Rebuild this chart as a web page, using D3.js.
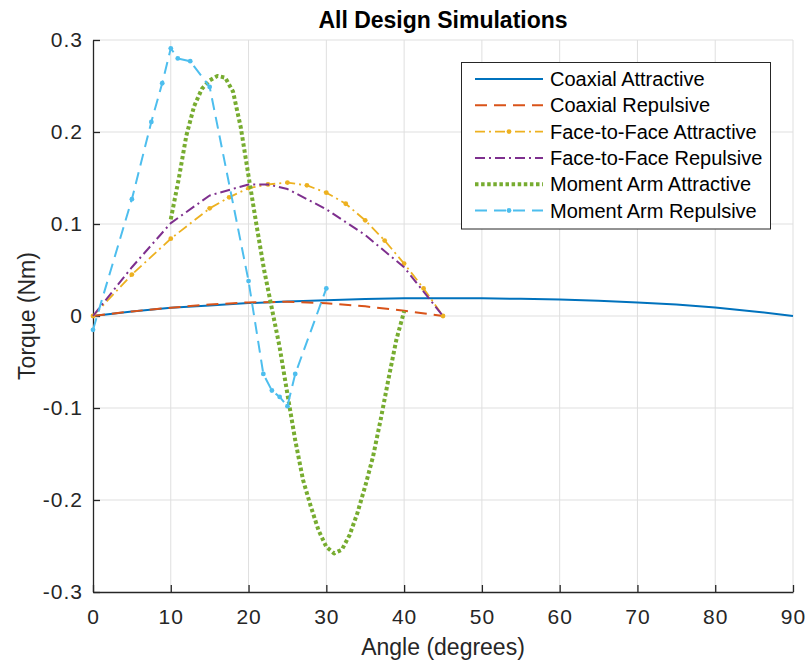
<!DOCTYPE html>
<html lang="en">
<head>
<meta charset="UTF-8">
<title>All Design Simulations</title>
<style>
  body { margin: 0; background: #fff; }
  svg { font-family: "Liberation Sans", Arial, sans-serif; }
</style>
</head>
<body>
<svg width="810" height="664"></svg>
<script src="https://d3js.org/d3.v7.min.js"></script>
<script>
// --- data ---
var coaxAttrX = [0, 5, 10, 15, 20, 25, 30, 35, 40, 45, 50, 55, 60, 65, 70, 75, 80, 85, 90];
var coaxAttrY = [0, 0.005, 0.009, 0.0115, 0.014, 0.0158, 0.0172, 0.0185, 0.0192, 0.0194, 0.0192, 0.0187, 0.0178, 0.0165, 0.0148, 0.0125, 0.0092, 0.005, 0];

var coaxRepX = [0, 5, 10, 15, 20, 25, 30, 35, 40, 45];
var coaxRepY = [0, 0.005, 0.009, 0.0125, 0.0148, 0.0155, 0.0138, 0.0105, 0.0058, 0];

var ffAttrX = [0, 5, 10, 15, 17.5, 20, 22.5, 25, 27.5, 30, 32.5, 35, 37.5, 40, 42.5, 45];
var ffAttrY = [0, 0.045, 0.084, 0.117, 0.129, 0.139, 0.143, 0.145, 0.142, 0.134, 0.122, 0.104, 0.082, 0.057, 0.030, 0];

var ffRepX = [0, 5, 10, 15, 20, 22.5, 25, 30, 35, 40, 45];
var ffRepY = [0, 0.053, 0.101, 0.131, 0.143, 0.143, 0.138, 0.116, 0.088, 0.053, 0];

var maAttrX = [10, 11, 12, 13, 14, 15, 16, 17, 18, 19, 20, 21, 22, 23, 24, 25, 26, 27, 28, 29, 30, 31, 32, 33, 34, 35, 36, 37, 38, 39, 40];
var maAttrY = [0.105, 0.148, 0.196, 0.228, 0.247, 0.256, 0.261, 0.259, 0.244, 0.205, 0.152, 0.100, 0.050, 0.008, -0.034, -0.085, -0.135, -0.178, -0.207, -0.233, -0.251, -0.258, -0.254, -0.238, -0.214, -0.185, -0.153, -0.112, -0.068, -0.026, 0.005];

var maRepX = [0, 5, 7.5, 8.9, 10, 10.9, 12.5, 15, 20, 21.9, 23, 24, 25, 26, 30];
var maRepY = [-0.015, 0.127, 0.211, 0.253, 0.291, 0.280, 0.277, 0.249, 0.038, -0.063, -0.081, -0.088, -0.098, -0.063, 0.030];

var seriesNames = ["Coaxial Attractive", "Coaxial Repulsive", "Face-to-Face Attractive",
                   "Face-to-Face Repulsive", "Moment Arm Attractive", "Moment Arm Repulsive"];
var xTicks = [0, 10, 20, 30, 40, 50, 60, 70, 80, 90];
var yTicks = [-0.3, -0.2, -0.1, 0, 0.1, 0.2, 0.3];

// --- styles for each series (MATLAB default order) ---
var styles = [
  { color: "#0072BD", dash: null,            width: 2,   marker: false },
  { color: "#D95319", dash: "12,7",          width: 2,   marker: false },
  { color: "#EDB120", dash: "10,4,2,4",      width: 1.8, marker: true  },
  { color: "#7E2F8E", dash: "10,4,2,4",      width: 2,   marker: false },
  { color: "#77AC30", dash: "3.5,2.6",       width: 4,   marker: false },
  { color: "#4DBEEE", dash: "12,7",          width: 2,   marker: true  }
];

var xs = [coaxAttrX, coaxRepX, ffAttrX, ffRepX, maAttrX, maRepX];
var ys = [coaxAttrY, coaxRepY, ffAttrY, ffRepY, maAttrY, maRepY];

var series = seriesNames.map(function (name, i) {
  return {
    name: name,
    style: styles[i],
    points: xs[i].map(function (x, j) { return { x: x, y: ys[i][j] }; })
  };
});

var svg = d3.select("svg");
var pLeft = 93, pRight = 793, pTop = 40, pBottom = 592;

var x = d3.scaleLinear().domain([0, 90]).range([pLeft, pRight]);
var y = d3.scaleLinear().domain([-0.3, 0.3]).range([pBottom, pTop]);

// grid
var grid = svg.append("g");
grid.selectAll(".gx").data(xTicks.slice(1)).enter().append("line")
  .attr("x1", function (d) { return x(d); }).attr("x2", function (d) { return x(d); })
  .attr("y1", pTop).attr("y2", pBottom)
  .attr("stroke", "#dfdfdf").attr("stroke-width", 1);
grid.selectAll(".gy").data(yTicks.slice(1)).enter().append("line")
  .attr("y1", function (d) { return y(d); }).attr("y2", function (d) { return y(d); })
  .attr("x1", pLeft).attr("x2", pRight)
  .attr("stroke", "#dfdfdf").attr("stroke-width", 1);

// axes (MATLAB style: hyphen minus, plain 0)
var fmtY = function (d) { return d === 0 ? "0" : d.toFixed(1); };

var xAxis = svg.append("g")
  .attr("transform", "translate(0," + pBottom + ")")
  .call(d3.axisBottom(x).tickValues(xTicks).tickSizeInner(-7).tickSizeOuter(0).tickPadding(17));
var yAxis = svg.append("g")
  .attr("transform", "translate(" + pLeft + ",0)")
  .call(d3.axisLeft(y).tickValues(yTicks).tickFormat(fmtY).tickSizeInner(-7).tickSizeOuter(0).tickPadding(10));

[xAxis, yAxis].forEach(function (a) {
  a.select(".domain").attr("stroke", "#262626").attr("stroke-width", 1.3);
  a.selectAll(".tick line").attr("stroke", "#262626").attr("stroke-width", 1.3);
  a.selectAll(".tick text").attr("fill", "#262626").style("font-size", "21px")
    .style("letter-spacing", "1px")
    .style("font-family", "'Liberation Sans', Arial, sans-serif");
});

// lines
var line = d3.line().x(function (d) { return x(d.x); }).y(function (d) { return y(d.y); });

var plot = svg.append("g");
series.forEach(function (s) {
  plot.append("path")
    .datum(s.points)
    .attr("d", line)
    .attr("fill", "none")
    .attr("stroke", s.style.color)
    .attr("stroke-width", s.style.width)
    .attr("stroke-dasharray", s.style.dash)
    .attr("stroke-linejoin", "round");
  if (s.style.marker) {
    plot.selectAll(null).data(s.points).enter().append("circle")
      .attr("cx", function (d) { return x(d.x); })
      .attr("cy", function (d) { return y(d.y); })
      .attr("r", 2.4)
      .attr("fill", s.style.color);
  }
});

// title and labels
svg.append("text")
  .attr("x", (pLeft + pRight) / 2).attr("y", 28)
  .attr("text-anchor", "middle")
  .style("font-size", "23px").style("font-weight", "bold")
  .attr("fill", "#000")
  .text("All Design Simulations");

svg.append("text")
  .attr("x", (pLeft + pRight) / 2).attr("y", 655)
  .attr("text-anchor", "middle")
  .style("font-size", "23px")
  .attr("fill", "#262626")
  .text("Angle (degrees)");

svg.append("text")
  .attr("transform", "translate(35," + (pTop + pBottom) / 2 + ") rotate(-90)")
  .attr("text-anchor", "middle")
  .style("font-size", "23px")
  .attr("fill", "#262626")
  .text("Torque (Nm)");

// legend
var lg = svg.append("g");
lg.append("rect")
  .attr("x", 461.5).attr("y", 62.5).attr("width", 309).attr("height", 166.5)
  .attr("fill", "#fff").attr("stroke", "#262626").attr("stroke-width", 1);

var rowH = 26.3;
series.forEach(function (s, i) {
  var cy = 79 + i * rowH;
  lg.append("line")
    .attr("x1", 475).attr("x2", 543).attr("y1", cy).attr("y2", cy)
    .attr("stroke", s.style.color)
    .attr("stroke-width", s.style.width)
    .attr("stroke-dasharray", s.style.dash);
  if (s.style.marker) {
    lg.append("circle").attr("cx", 509).attr("cy", cy).attr("r", 2.4).attr("fill", s.style.color);
  }
  lg.append("text")
    .attr("x", 550).attr("y", cy + 7)
    .style("font-size", "20px")
    .attr("fill", "#000")
    .text(s.name);
});
</script>
</body>
</html>
